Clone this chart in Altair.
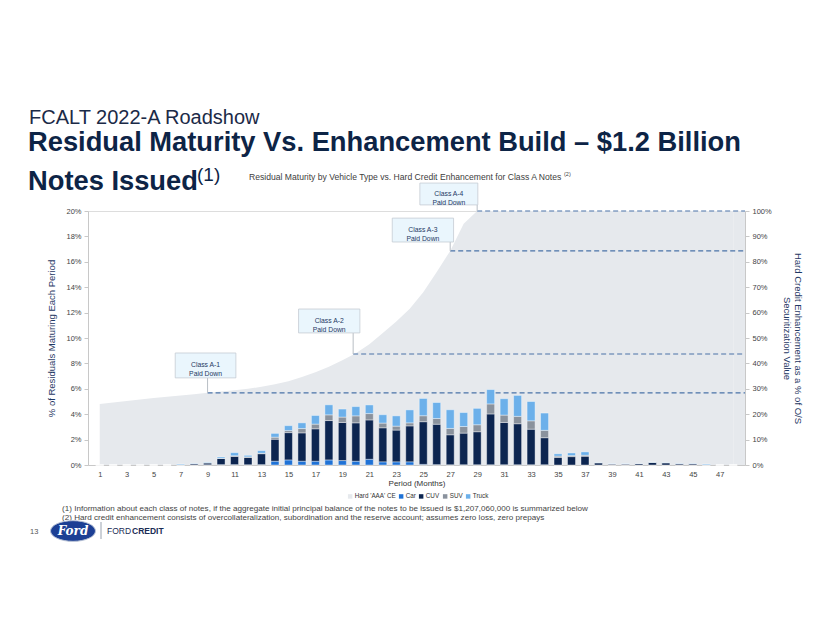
import altair as alt
import pandas as pd

# ---------------- data ----------------
periods = list(range(1, 49))
car = [0, 0, 0, 0, 0, 0, 0, 0, 0.02, 0.03, 0.03, 0.02, 0.03, 0.3, 0.4, 0.3, 0.3, 0.4, 0.35, 0.3,
       0.45, 0.25, 0.25, 0.25, 0.05, 0.03, 0.02, 0.02, 0.02, 0.02, 0.02, 0.02, 0.02, 0.02, 0, 0,
       0, 0, 0, 0, 0, 0, 0, 0, 0, 0, 0, 0]
cuv = [0, 0, 0, 0, 0, 0, 0.02, 0.1, 0.15, 0.48, 0.65, 0.58, 0.86, 1.73, 2.15, 2.23, 2.55, 3.1, 3.0, 3.02,
       3.1, 2.68, 2.5, 2.83, 3.36, 3.18, 2.36, 2.49, 2.6, 4.0, 3.33, 3.23, 2.8, 2.13, 0.6, 0.66,
       0.69, 0.17, 0.08, 0.08, 0.11, 0.2, 0.17, 0.1, 0.1, 0.02, 0, 0]
suv = [0, 0, 0, 0, 0, 0, 0, 0, 0, 0.02, 0.05, 0.04, 0.04, 0.16, 0.16, 0.34, 0.37, 0.45, 0.42, 0.55,
       0.5, 0.37, 0.31, 0.24, 0.47, 0.45, 0.5, 0.52, 0.55, 0.79, 0.58, 0.58, 0.66, 0.58, 0.1, 0.08,
       0.08, 0.02, 0, 0, 0, 0.02, 0.02, 0, 0, 0, 0, 0]
truck = [0, 0, 0, 0, 0, 0, 0.06, 0.03, 0.04, 0.1, 0.24, 0.12, 0.2, 0.3, 0.39, 0.45, 0.68, 0.79, 0.63, 0.73,
         0.68, 0.66, 0.81, 1.02, 1.36, 1.26, 1.47, 1.1, 1.29, 1.13, 1.29, 1.65, 1.52, 1.36, 0.18, 0.21,
         0.26, 0.02, 0.02, 0.02, 0.02, 0.02, 0.02, 0.03, 0.03, 0.06, 0, 0]
hard_ce = [24.0, 24.6, 25.2, 25.8, 26.4, 26.9, 27.4, 27.9, 28.4, 28.9, 29.4, 30.0, 30.8, 31.8, 33.0, 34.6,
           36.5, 38.7, 41.2, 44.0, 47.5, 52.0, 56.5, 61.5, 68.0, 76.0, 84.3, 95.0, 100, 100, 100, 100,
           100, 100, 100, 100, 100, 100, 100, 100, 100, 100, 100, 100, 100, 100, 100, 100]

series_names = ["Hard 'AAA' CE", "Car", "CUV", "SUV", "Truck"]
series_colors = ["#e6e9ed", "#1f72d6", "#0c2550", "#8a929d", "#6cb0ea"]

class_labels = ["Class A-1\nPaid Down", "Class A-2\nPaid Down", "Class A-3\nPaid Down", "Class A-4\nPaid Down"]
class_paid_period = [9, 19.8, 27, 29]
class_ce_level = [28.4, 43.7, 84.3, 100]

# annotation box layout (period units / right-axis percent)
box_left = [6.6, 15.75, 22.7, 24.75]
box_right = [11.1, 20.3, 27.25, 29.05]
box_bottom = [34.3, 52.0, 87.8, 102.4]
box_top = [44.1, 61.4, 97.2, 111.0]

# ---------------- tables ----------------
bar_rows = []
for k, (name, vals) in enumerate(zip(series_names[1:], [car, cuv, suv, truck])):
    for p, v in zip(periods, vals):
        bar_rows.append({"period": p, "series": name, "value": v, "k": k})
bars_df = pd.DataFrame(bar_rows)

area_df = pd.DataFrame({"period": periods, "ce": hard_ce, "series": series_names[0]})

ann_df = pd.DataFrame({
    "label": class_labels, "period": class_paid_period, "ce": class_ce_level,
    "bl": box_left, "br": box_right, "bb": box_bottom, "bt": box_top,
})

W, H = 657, 254
FONT = "Liberation Sans"
NAVY = "#1f3864"

xscale = alt.Scale(domain=[0.5, 48.5], nice=False, zero=False)
yscale_r = alt.Scale(domain=[0, 100], nice=False)

x_axis = alt.Axis(
    values=list(range(1, 48, 2)), title="Period (Months)", labelFontSize=7.5,
    titleFontSize=8, titleFontWeight="normal", titleColor="#333", labelColor="#444",
    ticks=False, domainColor="#c8c8c8", grid=False, titlePadding=2, labelPadding=5)

yr_axis = alt.Axis(
    orient="right", values=list(range(0, 101, 10)), labelExpr="datum.value + '%'",
    title=["Hard Credit Enhancement as a % of O/S", "Securitization Value"],
    titleFontSize=9.5, titleFontWeight="normal", titleColor=NAVY, titlePadding=10,
    titleLineHeight=11, labelFontSize=7.5, labelColor="#444", tickSize=4,
    tickColor="#c8c8c8", domainColor="#c8c8c8", grid=False, labelPadding=3)

yl_axis = alt.Axis(
    orient="left", values=list(range(0, 21, 2)), labelExpr="datum.value + '%'",
    title="% of Residuals Maturing Each Period", titleFontSize=9.5, titleFontWeight="normal",
    titleColor=NAVY, titlePadding=9, labelFontSize=7.5, labelColor="#444", tickSize=4,
    tickColor="#c8c8c8", domainColor="#c8c8c8", grid=False, labelPadding=3)

color = alt.Color(
    "series:N",
    scale=alt.Scale(domain=series_names, range=series_colors),
    legend=alt.Legend(
        title=None, orient="none", legendX=259, legendY=282, direction="horizontal",
        symbolType="square", symbolSize=20, symbolStrokeWidth=0, labelFontSize=6.3,
        labelColor="#333", columnPadding=2, labelOffset=1.5, labelFont=FONT,
    ),
)


def X(field):
    return alt.X(field, type="quantitative", scale=xscale, axis=x_axis)


def YR(field):
    return alt.Y(field, type="quantitative", scale=yscale_r, axis=yr_axis)


# ---------------- right-axis layers (hard CE) ----------------
area = alt.Chart(area_df).mark_area(opacity=1).encode(
    x=X("period"), y=YR("ce"), color=color,
)

# the shaded CE level continues to the right edge of the plot after the last period
area_tail = alt.Chart(area_df).mark_rect(color=series_colors[0]).transform_filter(
    f"datum.period == {periods[-1]}"
).encode(
    x=X("period"), x2=alt.value(W), y=YR("ce"), y2=alt.value(H),
)

dashes = alt.Chart(ann_df).mark_rule(color="#4a73a8", strokeDash=[5, 3], strokeWidth=1.2).encode(
    x=X("period"), x2=alt.value(W), y=YR("ce"),
)

connectors = alt.Chart(ann_df).mark_rule(color="#b8bec5", strokeWidth=1).encode(
    x=X("period"), y=YR("ce"), y2="bb:Q",
)

boxes = alt.Chart(ann_df).mark_rect(fill="#eaf6fd", stroke="#c5ccd3", strokeWidth=0.8).encode(
    x=X("bl"), x2="br:Q", y=YR("bb"), y2="bt:Q",
)

box_text = alt.Chart(ann_df).mark_text(
    lineBreak="\n", fontSize=6.8, color=NAVY, baseline="middle", lineHeight=9, font=FONT
).transform_calculate(
    cx="(datum.bl + datum.br) / 2", cy="(datum.bb + datum.bt) / 2"
).encode(
    x=X("cx"), y=YR("cy"), text="label:N",
)

right_layers = alt.layer(area, area_tail, dashes, connectors, boxes, box_text)

# ---------------- left-axis bars ----------------
bars = alt.Chart(bars_df).mark_bar(size=8, stroke="white", strokeWidth=0.4).encode(
    x=X("period"),
    y=alt.Y("value:Q", stack="zero", scale=alt.Scale(domain=[0, 20], nice=False), axis=yl_axis),
    color=color,
    order=alt.Order("k:Q", sort="ascending"),
)

# ---------------- page decorations ----------------
one = alt.Data(values=[{"a": 1}])


def txt(s, x, y, size, col, weight="normal", align="left", font=FONT, style="normal"):
    return alt.Chart(one).mark_text(
        text=s, fontSize=size, color=col, fontWeight=weight, align=align, font=font,
        fontStyle=style, baseline="alphabetic"
    ).encode(x=alt.value(x), y=alt.value(y))


decor = [
    txt("FCALT 2022-A Roadshow", -59, -87, 20, "#1b2a47"),
    txt("Residual Maturity Vs. Enhancement Build \u2013 $1.2 Billion", -60, -60, 27.3, "#0d2446", "bold"),
    txt("Notes Issued", -60, -21, 27.3, "#0d2446", "bold"),
    txt("(1)", 109, -30, 19, "#0d2446", "normal"),
    txt("Residual Maturity by Vehicle Type vs. Hard Credit Enhancement for Class A Notes", 161, -31, 8.6, "#404040"),
    txt("(2)", 476, -35, 5.5, "#404040"),
    txt("(1) Information about each class of notes, if the aggregate initial principal balance of the notes to be issued is $1,207,060,000 is summarized below",
        -26, 300, 8.1, "#444"),
    txt("(2) Hard credit enhancement consists of overcollateralization, subordination and the reserve account; assumes zero loss, zero prepays",
        -26, 309, 8.1, "#444"),
    txt("13", -58, 323, 7.5, "#555"),
]

oval = alt.Chart(one).mark_point(
    shape="M -1 0 A 1 0.46 0 1 1 1 0 A 1 0.46 0 1 1 -1 0 Z", size=2025, filled=True,
    fill="#1c3f94", stroke="#b9c3d6", strokeWidth=1, opacity=1
).encode(x=alt.value(-15), y=alt.value(320))
ford = txt("Ford", -15, 324, 12, "white", "bold", "center", "DejaVu Serif", "italic")
sep = alt.Chart(one).mark_rule(color="#9aa3b0", strokeWidth=1).encode(
    x=alt.value(13), y=alt.value(311), y2=alt.value(328))
ford_credit = txt("FORD", 19, 323, 8.5, "#1a2c55")
credit = txt("CREDIT", 44, 323, 8.5, "#1a2c55", "bold")

chart = alt.layer(
    right_layers, bars, *decor, oval, ford, sep, ford_credit, credit
).resolve_scale(y="independent").properties(
    width=W, height=H,
    autosize=alt.AutoSizeParams(type="none"),
    padding={"left": 80, "top": 203, "right": 65, "bottom": 162},
).configure_view(stroke=None).configure(font=FONT)

chart.save("out.html", embed_options={"renderer": "svg", "actions": False})
